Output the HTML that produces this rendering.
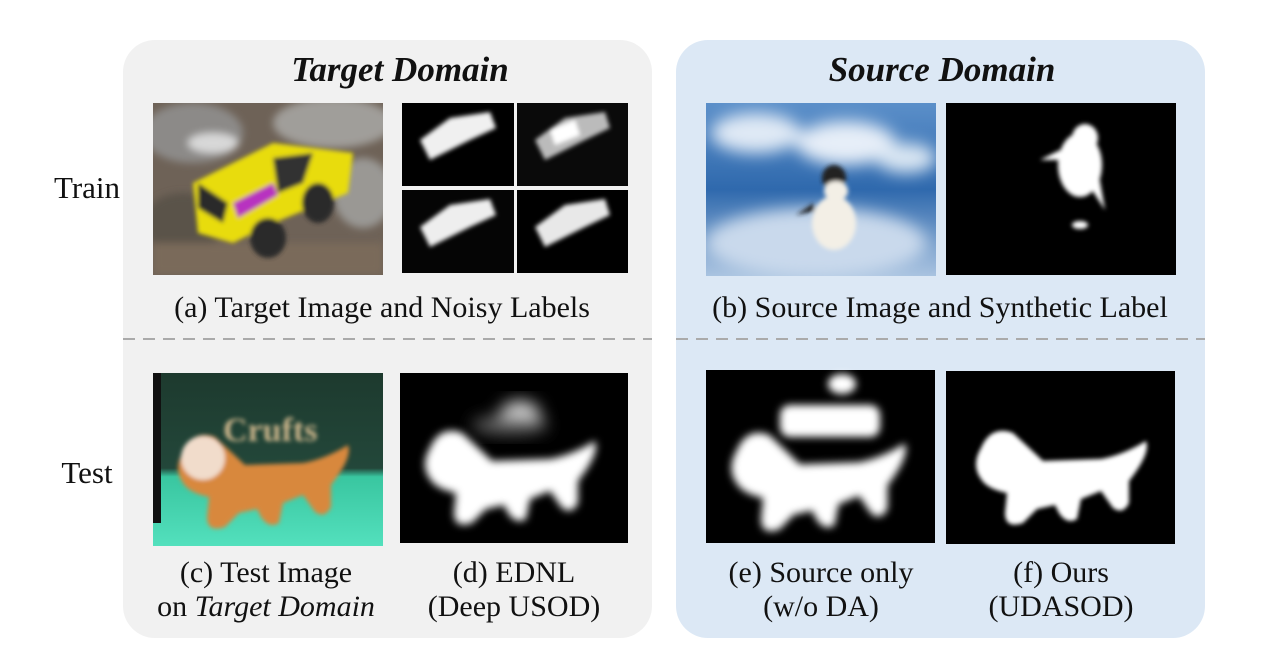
<!DOCTYPE html>
<html><head><meta charset="utf-8"><style>
html,body{margin:0;padding:0;background:#fff;}
svg{display:block;}
text{font-family:"Liberation Serif",serif;fill:#111;}
</style></head><body>
<svg width="1280" height="668" viewBox="0 0 1280 668" xmlns="http://www.w3.org/2000/svg">
<defs>
<filter id="b1" x="-20%" y="-20%" width="140%" height="140%"><feGaussianBlur stdDeviation="2"/></filter>
<filter id="b2" x="-20%" y="-20%" width="140%" height="140%"><feGaussianBlur stdDeviation="4"/></filter>
<filter id="b6" x="-30%" y="-30%" width="160%" height="160%"><feGaussianBlur stdDeviation="8"/></filter>
<path id="dog" d="M30,75 Q40,52 62,60 Q75,72 92,88 L150,86 Q172,82 195,68 Q200,80 178,108 L178,130 Q172,142 162,135 L150,118 L130,126 L126,146 Q116,152 108,140 L104,132 L86,136 L72,150 Q54,156 54,140 L56,120 Q36,116 30,106 Q20,92 30,75 Z"/>
<linearGradient id="sky" x1="0" y1="0" x2="0" y2="1"><stop offset="0" stop-color="#5b8fc9"/><stop offset="0.5" stop-color="#2f69ad"/><stop offset="1" stop-color="#a9c3e0"/></linearGradient>
<linearGradient id="dogbg" x1="0" y1="0" x2="0" y2="1"><stop offset="0" stop-color="#1d3a2e"/><stop offset="0.55" stop-color="#23473a"/><stop offset="0.6" stop-color="#39c6a0"/><stop offset="1" stop-color="#53e0bd"/></linearGradient>
</defs>

<rect x="123" y="40" width="529" height="598" rx="32" fill="#f1f1f1"/>
<rect x="676" y="40" width="529" height="598" rx="32" fill="#dce8f5"/>
<line x1="123" y1="339" x2="652" y2="339" stroke="#aaa" stroke-width="2" stroke-dasharray="12,8"/>
<line x1="676" y1="339" x2="1205" y2="339" stroke="#aaa" stroke-width="2" stroke-dasharray="12,8"/>

<text x="400" y="81" font-size="35" font-weight="bold" font-style="italic" text-anchor="middle">Target Domain</text>
<text x="942" y="81" font-size="35" font-weight="bold" font-style="italic" text-anchor="middle">Source Domain</text>
<text x="87" y="198" font-size="31" text-anchor="middle">Train</text>
<text x="87" y="483" font-size="31" text-anchor="middle">Test</text>

<svg x="153" y="103" width="230" height="172" viewBox="0 0 230 172">
<rect width="230" height="172" fill="#6e6257"/>
<g filter="url(#b2)">
<ellipse cx="40" cy="30" rx="50" ry="30" fill="#8c8a88"/>
<ellipse cx="180" cy="20" rx="60" ry="25" fill="#a09e9a"/>
<ellipse cx="210" cy="90" rx="30" ry="35" fill="#9a9894"/>
<ellipse cx="60" cy="40" rx="25" ry="10" fill="#d8d8d8"/>
<ellipse cx="30" cy="120" rx="40" ry="30" fill="#5a5248"/>
<rect x="0" y="140" width="230" height="32" fill="#7a6a5a"/>
</g>
<g filter="url(#b1)">
<polygon points="40,80 120,40 200,50 195,90 120,120 80,140 45,130" fill="#e8dc0c"/>
<polygon points="120,55 160,50 150,80 125,90" fill="#333"/>
<polygon points="45,80 75,100 70,120 45,105" fill="#2a2a2a"/>
<polygon points="80,100 120,80 125,92 85,115" fill="#b830c0"/>
<ellipse cx="165" cy="100" rx="16" ry="20" fill="#2b2b2b"/>
<ellipse cx="115" cy="135" rx="18" ry="20" fill="#2b2b2b"/>
</g>
</svg>

<g>
<rect x="402" y="103" width="112" height="83" fill="#000"/>
<rect x="517" y="103" width="111" height="83" fill="#0a0a0a"/>
<rect x="402" y="190" width="112" height="83" fill="#050505"/>
<rect x="517" y="190" width="111" height="83" fill="#000"/>
<g filter="url(#b1)">
<polygon points="420,140 450,118 490,112 496,128 470,140 430,160" fill="#f0f0f0"/>
<polygon points="535,140 565,118 605,112 610,128 585,140 545,160" fill="#bbb"/>
<polygon points="550,130 575,120 580,135 555,145" fill="#fff"/>
<polygon points="420,227 450,205 490,199 496,215 470,227 430,247" fill="#eee"/>
<polygon points="535,227 565,205 605,199 610,215 585,227 545,247" fill="#e8e8e8"/>
</g>
</g>

<svg x="706" y="103" width="230" height="173" viewBox="0 0 230 173">
<rect width="230" height="173" fill="url(#sky)"/>
<g filter="url(#b6)">
<ellipse cx="50" cy="30" rx="45" ry="20" fill="#dfe9f5"/>
<ellipse cx="140" cy="40" rx="50" ry="22" fill="#e6eef8"/>
<ellipse cx="200" cy="55" rx="30" ry="15" fill="#d9e6f3"/>
<ellipse cx="110" cy="140" rx="110" ry="35" fill="#c9d9ec"/>
</g>
<g filter="url(#b1)">
<ellipse cx="128" cy="120" rx="22" ry="27" fill="#f3efe6"/>
<ellipse cx="128" cy="75" rx="12" ry="13" fill="#222"/>
<ellipse cx="130" cy="88" rx="12" ry="10" fill="#f3efe6"/>
<polygon points="108,100 90,112 108,108" fill="#222"/>
</g>
</svg>
<rect x="946" y="103" width="230" height="172" fill="#000"/>
<g filter="url(#b1)" fill="#fff">
<ellipse cx="1080" cy="165" rx="22" ry="32"/>
<ellipse cx="1085" cy="138" rx="13" ry="14"/>
<polygon points="1060,150 1040,160 1062,160"/>
<polygon points="1098,170 1105,210 1092,190"/>
<ellipse cx="1080" cy="225" rx="8" ry="4"/>
</g>

<svg x="153" y="373" width="230" height="173" viewBox="0 0 230 173">
<rect width="230" height="173" fill="url(#dogbg)"/>
<text x="70" y="68" font-size="34" font-weight="bold" style="fill:#c9b48a" filter="url(#b1)">Crufts</text>
<g filter="url(#b1)"><use href="#dog" fill="#d8883e" transform="translate(0,4)"/><circle cx="50" cy="85" r="22" fill="#f1dccb"/></g>
<rect x="0" y="0" width="8" height="150" fill="#111"/>
</svg>

<rect x="400" y="373" width="228" height="170" fill="#000"/>
<g filter="url(#b6)"><ellipse cx="520" cy="415" rx="20" ry="14" fill="#ddd"/><ellipse cx="510" cy="425" rx="38" ry="9" fill="#666"/></g>
<g filter="url(#b2)"><use href="#dog" fill="#fff" transform="translate(400,373)"/></g>

<rect x="706" y="370" width="229" height="173" fill="#000"/>
<g filter="url(#b2)" fill="#fff">
<rect x="780" y="405" width="100" height="32" rx="10"/>
<ellipse cx="842" cy="384" rx="14" ry="10"/>
<use href="#dog" transform="translate(706,372) scale(1.02,1.05)"/>
</g>

<rect x="946" y="371" width="229" height="173" fill="#000"/>
<g filter="url(#b1)"><use href="#dog" fill="#fff" transform="translate(951,373)"/></g>

<text x="382" y="317" font-size="30" text-anchor="middle">(a) Target Image and Noisy Labels</text>
<text x="940" y="317" font-size="30" text-anchor="middle">(b) Source Image and Synthetic Label</text>
<text x="266" y="582" font-size="30" text-anchor="middle">(c) Test Image</text>
<text x="266" y="616" font-size="30" text-anchor="middle">on <tspan font-style="italic">Target Domain</tspan></text>
<text x="514" y="582" font-size="30" text-anchor="middle">(d) EDNL</text>
<text x="514" y="616" font-size="30" text-anchor="middle">(Deep USOD)</text>
<text x="821" y="582" font-size="30" text-anchor="middle">(e) Source only</text>
<text x="821" y="616" font-size="30" text-anchor="middle">(w/o DA)</text>
<text x="1061" y="582" font-size="30" text-anchor="middle">(f) Ours</text>
<text x="1061" y="616" font-size="30" text-anchor="middle">(UDASOD)</text>
</svg>
</body></html>
